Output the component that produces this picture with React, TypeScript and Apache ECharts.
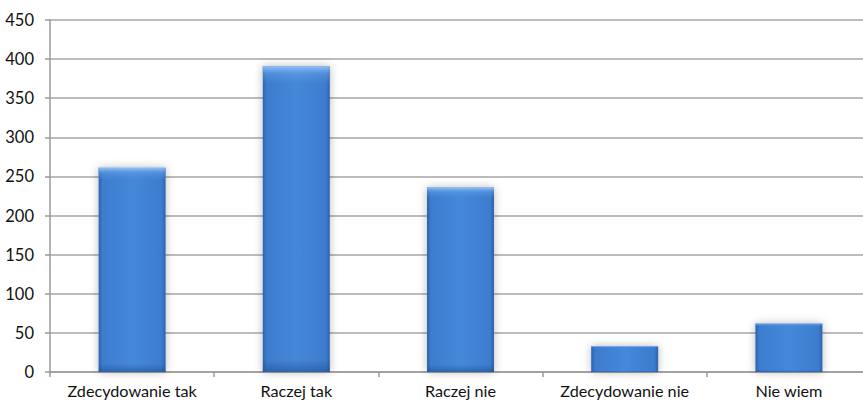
import React, { useEffect, useRef } from "react";
import * as echarts from "echarts";

const categories = ["Zdecydowanie tak", "Raczej tak", "Raczej nie", "Zdecydowanie nie", "Nie wiem"];
const values = [261, 391, 236, 33, 62];
const yTicks = { min: 0, max: 450, interval: 50 };

export default function App() {
  const ref = useRef<HTMLDivElement>(null);
  useEffect(() => {
    if (!ref.current) return;
    const chart = echarts.init(ref.current, null, { renderer: "svg" });
    const font = "Lato, sans-serif";
    chart.setOption({
      animation: false,
      backgroundColor: "#ffffff",
      grid: { left: 50, top: 20, right: 9, bottom: 29, containLabel: false },
      xAxis: {
        type: "category",
        data: categories,
        axisLine: { show: true, lineStyle: { color: "#9a9a9a", width: 1.5 } },
        axisTick: { show: true, interval: 0, length: 5, lineStyle: { color: "#9a9a9a", width: 1.5 } },
        axisLabel: { interval: 0, color: "#111", fontSize: 16.2, fontFamily: font, margin: 10 },
      },
      yAxis: {
        type: "value",
        min: yTicks.min,
        max: yTicks.max,
        interval: yTicks.interval,
        axisLine: { show: true, lineStyle: { color: "#9a9a9a", width: 1.5 } },
        axisTick: { show: true, length: 5, lineStyle: { color: "#9a9a9a", width: 1.5 } },
        splitLine: { show: true, lineStyle: { color: "#a6a6a6", width: 1.5 } },
        axisLabel: { color: "#111", fontSize: 16.5, fontFamily: font, margin: 16 },
      },
      series: [
        {
          type: "bar",
          data: values,
          barWidth: 67,
          itemStyle: {
            color: new echarts.graphic.LinearGradient(0, 0, 1, 0, [
              { offset: 0, color: "#2d62ad" },
              { offset: 0.06, color: "#3d7cce" },
              { offset: 0.5, color: "#4588d9" },
              { offset: 0.94, color: "#3d7cce" },
              { offset: 1, color: "#2d62ad" },
            ]),
            shadowColor: "rgba(0,0,0,0.28)",
            shadowBlur: 8,
          },
        },
        {
          type: "bar",
          data: values,
          barWidth: 67,
          barGap: "-100%",
          z: 3,
          itemStyle: {
            color: new echarts.graphic.LinearGradient(0, 0, 0, 1, [
              { offset: 0, color: "rgba(150,198,248,0.95)" },
              { offset: 0.025, color: "rgba(100,160,230,0.5)" },
              { offset: 0.06, color: "rgba(90,150,225,0)" },
              { offset: 0.96, color: "rgba(30,70,130,0)" },
              { offset: 1, color: "rgba(30,70,130,0.5)" },
            ]),
          },
        },
      ],
    });
    return () => chart.dispose();
  }, []);
  return (
    <div style={{ position: "absolute", left: 0, top: 0, width: 863, height: 401, overflow: "hidden" }}>
      <div ref={ref} style={{ width: 880, height: 401 }} />
    </div>
  );
}
